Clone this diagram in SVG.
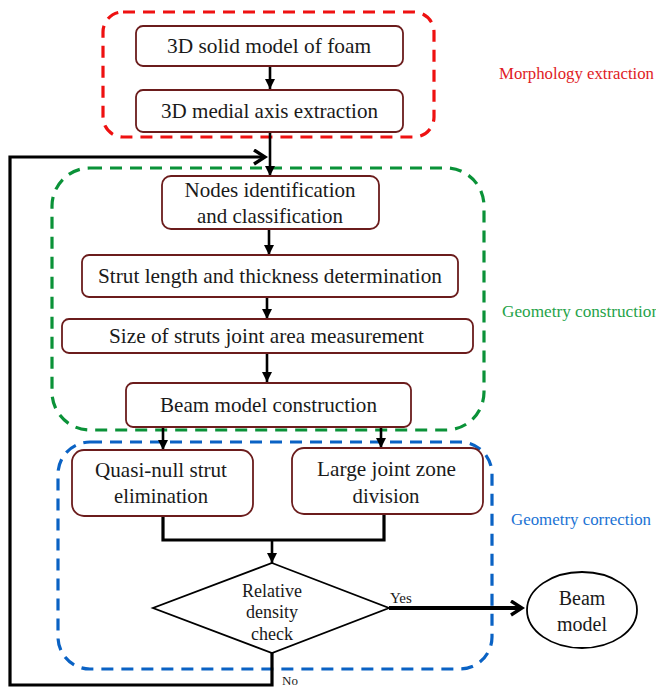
<svg xmlns="http://www.w3.org/2000/svg" width="656" height="688" viewBox="0 0 656 688">
<defs>
<style>
.box{fill:#fff;stroke:#6b1c1c;stroke-width:1.8}
text{font-family:'Liberation Serif','DejaVu Serif',serif}
.t{font-size:21px;fill:#1a1a1a;text-anchor:middle}
.s{fill:#1a1a1a}
.lbl{font-size:16px}
.grp{fill:none;stroke-width:3.2;stroke-dasharray:12 8}
.ln{fill:none;stroke:#000;stroke-width:2.6}
.ln3{fill:none;stroke:#000;stroke-width:3.2}
</style>
<marker id="tri" markerUnits="userSpaceOnUse" markerWidth="10" markerHeight="12" refX="10" refY="5" orient="auto">
<path d="M0,0 L10,5 L0,10 z" fill="#000"/>
</marker>
<marker id="chev" markerUnits="userSpaceOnUse" markerWidth="16" markerHeight="18" refX="13" refY="8" orient="auto">
<path d="M2,1 L13,8 L2,15" fill="none" stroke="#000" stroke-width="3.4"/>
</marker>
</defs>

<g id="groups">
<rect id="morphology" class="grp" x="103" y="12" width="331" height="125" rx="20" stroke="#ee1111"/>
<rect id="geometry-construction" class="grp" x="52" y="168" width="432" height="262" rx="38" stroke="#0a9238"/>
<rect id="geometry-correction" class="grp" x="58" y="442" width="434" height="227" rx="32" stroke="#0a62c4"/>
</g>

<g id="labels">
<text class="lbl" x="499" y="79" fill="#e01b24" textLength="155" lengthAdjust="spacingAndGlyphs">Morphology extraction</text>
<text class="lbl" x="502" y="317" fill="#1fa34a" textLength="158" lengthAdjust="spacingAndGlyphs">Geometry construction</text>
<text class="lbl" x="511" y="525" fill="#1a72d4" textLength="140" lengthAdjust="spacingAndGlyphs">Geometry correction</text>
</g>

<g id="connectors">
<line class="ln" x1="270" y1="66" x2="270" y2="89" marker-end="url(#tri)"/>
<line class="ln" x1="270" y1="132" x2="270" y2="176" marker-end="url(#tri)"/>
<line class="ln" x1="269" y1="229" x2="269" y2="255" marker-end="url(#tri)"/>
<line class="ln" x1="267" y1="297" x2="267" y2="319" marker-end="url(#tri)"/>
<line class="ln" x1="267" y1="353" x2="267" y2="382" marker-end="url(#tri)"/>
<line class="ln" x1="163" y1="427" x2="163" y2="450" marker-end="url(#tri)"/>
<line class="ln" x1="381" y1="427" x2="381" y2="448" marker-end="url(#tri)"/>
<path class="ln3" d="M163,516 V540 H384 V514"/>
<line class="ln" x1="272" y1="540" x2="272" y2="563" marker-end="url(#tri)"/>
<path class="ln3" d="M272,653 V685 H10 V157 H265" marker-end="url(#chev)"/>
<line x1="389" y1="608" x2="522" y2="608" stroke="#000" stroke-width="4" marker-end="url(#chev)"/>
<text class="s" x="390" y="603" font-size="15">Yes</text>
<text class="s" x="282" y="685" font-size="13">No</text>
</g>

<g id="n1">
<rect class="box" x="136" y="26" width="267" height="40" rx="7"/>
<text class="t" x="269" y="53" textLength="204" lengthAdjust="spacingAndGlyphs">3D solid model of foam</text>
</g>
<g id="n2">
<rect class="box" x="136" y="90" width="267" height="42" rx="7"/>
<text class="t" x="269.5" y="118" textLength="217" lengthAdjust="spacingAndGlyphs">3D medial axis extraction</text>
</g>
<g id="n3">
<rect class="box" x="162" y="176" width="217" height="53" rx="9"/>
<text class="t" x="270" y="197" textLength="171" lengthAdjust="spacingAndGlyphs">Nodes identification</text>
<text class="t" x="270" y="223" textLength="146" lengthAdjust="spacingAndGlyphs">and classification</text>
</g>
<g id="n4">
<rect class="box" x="82" y="255" width="376" height="42" rx="7"/>
<text class="t" x="270" y="283" textLength="344" lengthAdjust="spacingAndGlyphs">Strut length and thickness determination</text>
</g>
<g id="n5">
<rect class="box" x="62" y="319" width="411" height="34" rx="7"/>
<text class="t" x="266.5" y="343" textLength="315" lengthAdjust="spacingAndGlyphs">Size of struts joint area measurement</text>
</g>
<g id="n6">
<rect class="box" x="126" y="383" width="285" height="44" rx="7"/>
<text class="t" x="268.5" y="412" textLength="217" lengthAdjust="spacingAndGlyphs">Beam model construction</text>
</g>
<g id="n7">
<rect class="box" x="72" y="450" width="181" height="66" rx="12"/>
<text class="t" x="161" y="477" textLength="132" lengthAdjust="spacingAndGlyphs">Quasi-null strut</text>
<text class="t" x="161" y="503" textLength="94" lengthAdjust="spacingAndGlyphs">elimination</text>
</g>
<g id="n8">
<rect class="box" x="292" y="448" width="191" height="66" rx="12"/>
<text class="t" x="386.5" y="476" textLength="139" lengthAdjust="spacingAndGlyphs">Large joint zone</text>
<text class="t" x="386" y="503" textLength="67" lengthAdjust="spacingAndGlyphs">division</text>
</g>
<g id="n9">
<polygon points="272,563 389,608 272,653 153,608" fill="#fff" stroke="#000" stroke-width="1.8"/>
<text class="s" x="272" y="597" font-size="18" text-anchor="middle">Relative</text>
<text class="s" x="272" y="618" font-size="18" text-anchor="middle">density</text>
<text class="s" x="272" y="640" font-size="18" text-anchor="middle">check</text>
</g>
<g id="n10">
<ellipse cx="582" cy="610" rx="55" ry="38" fill="#fff" stroke="#000" stroke-width="1.8"/>
<text class="s" x="582" y="605" font-size="20" text-anchor="middle">Beam</text>
<text class="s" x="582" y="631" font-size="20" text-anchor="middle">model</text>
</g>
</svg>
